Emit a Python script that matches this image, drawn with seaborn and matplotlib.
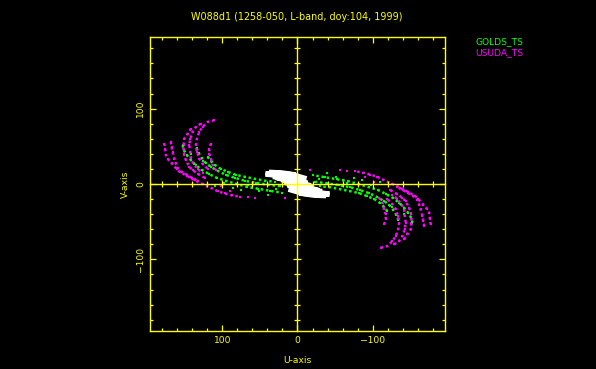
import matplotlib
matplotlib.use("Agg")
import matplotlib.pyplot as plt
from matplotlib.ticker import MultipleLocator, FixedLocator
import seaborn as sns
import pandas as pd

# ---------------- data (u, v) -------------
title = "W088d1 (1258-050, L-band, doy:104, 1999)"
series_names = ["GOLDS_TS", "USUDA_TS"]

golds_u = [
    [152.7, 151.4, 147.4, 142.1, 135.5, 127.5, 118.2, 107.6, 95.6, 82.3, 67.7, 53.1, 37.2, 21.2],
    [134.1, 131.5, 127.5, 122.2, 115.5, 106.2, 95.6, 83.7, 70.4, 55.8, 39.8, 23.9],
    [119.5, 115.5, 110.2, 102.3, 93.0, 82.3, 70.4, 57.1, 43.8, 30.5],
]
golds_v = [
    [51.5, 45.3, 38.7, 32.1, 25.5, 18.9, 13.6, 8.3, 4.4, 0.4, -3.6, -6.2, -8.9, -11.5],
    [48.0, 41.3, 34.7, 28.1, 22.9, 17.6, 12.3, 8.3, 4.4, 1.7, -0.9, -2.9],
    [36.1, 30.8, 25.5, 20.2, 16.2, 12.3, 9.6, 7.0, 4.4, 3.0],
]
# loose green samples scattered below the tracks
golds_extra_u = [110.2, 86.3, 74.7, 59.8, 50.5, 39.8, 98.0, 66.0, 28.0, 141.0, 125.0]
golds_extra_v = [-3.1, -4.9, -7.5, -4.9, -9.8, -14.1, 1.5, -1.0, -6.0, 40.0, 30.0]

usuda_u = [
    [177.0, 176.0, 175.0, 172.6, 167.3, 160.7, 156.7, 147.4, 136.8, 126.2, 114.2, 106.2, 97.0, 87.6, 77.0],
    [168.3, 167.3, 166.0, 163.7, 161.6, 159.4, 154.0, 147.4, 140.8, 132.8],
    [141.7, 146.0, 150.5, 151.4, 151.4, 150.5, 148.3, 143.8, 139.4, 132.8, 123.5],
    [128.4, 135.0, 139.4, 142.5, 143.8, 142.5, 141.7, 138.1, 132.8, 126.2],
    [110.6, 119.5, 126.2, 130.5, 133.7, 135.0, 133.7, 130.5, 126.2, 119.5],
    [115.1, 117.3, 117.3, 115.1, 112.9, 108.9],
]
usuda_v = [
    [53.6, 47.0, 38.3, 33.4, 27.5, 20.2, 16.2, 11.0, 5.0, 0.0, -5.5, -9.5, -12.5, -15.0, -16.9],
    [55.9, 49.3, 42.7, 33.8, 27.2, 20.6, 16.2, 12.3, 8.3, 4.4],
    [73.4, 66.8, 60.2, 51.5, 44.9, 38.3, 31.7, 22.9, 18.5, 13.6, 8.3],
    [80.0, 75.7, 69.1, 60.2, 51.5, 42.7, 33.8, 26.8, 20.2, 14.9],
    [84.5, 82.3, 75.7, 69.1, 60.2, 51.5, 42.7, 33.8, 26.8, 20.2],
    [53.6, 47.0, 40.4, 33.8, 25.1, 18.9],
]
usuda_extra_u = [17.0, 56.0, 66.0, 101.0, 90.0]
usuda_extra_v = [-18.5, -19.0, -17.5, -3.0, -9.0]

other_u = [
    [39.8, 33.0, 26.6],
    [22.6, 16.0, 10.6, 5.0, 0.0, -9.3],
    [18.6, 8.0, -2.7, -15.9, -26.6],
    [10.6, -2.7, -15.9, -29.2, -39.8],
    [23.9, 13.3, 2.7],
    [35.0, 25.0, 15.0, 5.0],
    [30.0, 20.0, 10.0, 0.0, -10.0],
    [15.0, 5.0, -5.0, -15.0, -25.0, -35.0],
]
other_v = [
    [12.3, 11.5, 11.0],
    [14.9, 14.3, 13.6, 12.3, 11.0, 8.3],
    [4.4, 1.7, -0.9, -4.8, -7.5],
    [-2.2, -6.2, -10.2, -12.8, -14.1],
    [7.0, 5.7, 4.4],
    [16.0, 15.5, 14.5, 13.0],
    [9.0, 8.0, 6.5, 5.0, 3.0],
    [1.0, -2.0, -5.0, -8.0, -10.5, -12.5],
]

x_ticks = [100, 0, -100]
y_ticks = [-100, 0, 100]


def tracks(us, vs):
    """Table of visibilities plus their conjugates (-u, -v)."""
    rows = []
    for i, (uu, vv) in enumerate(zip(us, vs)):
        for a, b in zip(uu, vv):
            rows.append((a, b, f"{i}+"))
        for a, b in zip(uu, vv):
            rows.append((-a, -b, f"{i}-"))
    return pd.DataFrame(rows, columns=["u", "v", "track"])


df_golds = tracks(golds_u, golds_v)
df_usuda = tracks(usuda_u, usuda_v)
df_other = tracks(other_u, other_v)
df_golds_x = tracks([golds_extra_u], [golds_extra_v])
df_usuda_x = tracks([usuda_extra_u], [usuda_extra_v])

YEL = "#ffff00"
GRN = "#00ff00"
MAG = "#ff00ff"
WHT = "#ffffff"
FS = 6.6

fig = plt.figure(figsize=(5.96, 3.69), dpi=100, facecolor="black")
pos = [150 / 596, 38 / 369, 295 / 596, 294 / 369]
ax = fig.add_axes(pos)
ax.set_facecolor("black")

# white short-baseline tracks
sns.lineplot(data=df_other, x="u", y="v", units="track", estimator=None, sort=False,
             color=WHT, lw=3.2, ax=ax, legend=False)
sns.scatterplot(data=df_other, x="u", y="v", color=WHT, s=8, marker="s", linewidth=0,
                ax=ax, legend=False)

# coloured tracks (dotted)
for df, dfx, col in ((df_golds, df_golds_x, GRN), (df_usuda, df_usuda_x, MAG)):
    sns.lineplot(data=df, x="u", y="v", units="track", estimator=None, sort=False,
                 color=col, lw=1.8, linestyle=(0, (1, 1.1)), ax=ax, legend=False)
    sns.scatterplot(data=df, x="u", y="v", color=col, s=3.5, marker="s", linewidth=0,
                    ax=ax, legend=False)
    sns.scatterplot(data=dfx, x="u", y="v", color=col, s=3.5, marker="s", linewidth=0,
                    ax=ax, legend=False)

ax.set_xlim(196, -196)
ax.set_ylim(-195, 195)
ax.xaxis.set_major_locator(FixedLocator(x_ticks))
ax.yaxis.set_major_locator(FixedLocator(y_ticks))
ax.xaxis.set_minor_locator(MultipleLocator(20))
ax.yaxis.set_minor_locator(MultipleLocator(20))
for s in ax.spines.values():
    s.set_color(YEL)
    s.set_linewidth(1.0)
ax.tick_params(which="both", direction="in", top=True, right=True, color=YEL,
               labelcolor=YEL, labelsize=FS, width=0.9)
ax.tick_params(which="major", length=4.2, pad=3.5)
ax.tick_params(which="minor", length=2.4)
ax.tick_params(axis="y", labelrotation=90)
for lab in ax.get_yticklabels():
    lab.set_va("center")
ax.set_xlabel("U-axis", color=YEL, fontsize=FS, labelpad=8)
ax.set_ylabel("V-axis", color=YEL, fontsize=FS, labelpad=4.5)
ax.grid(False)

# zero axes with crossing ticks
ax2 = fig.add_axes(pos)
ax2.patch.set_visible(False)
ax2.set_xlim(196, -196)
ax2.set_ylim(-195, 195)
ax2.spines["top"].set_visible(False)
ax2.spines["right"].set_visible(False)
ax2.spines["left"].set_position(("data", 0))
ax2.spines["bottom"].set_position(("data", 0))
for k in ("left", "bottom"):
    ax2.spines[k].set_color(YEL)
    ax2.spines[k].set_linewidth(1.0)
ax2.xaxis.set_major_locator(FixedLocator(x_ticks))
ax2.yaxis.set_major_locator(FixedLocator(y_ticks))
ax2.xaxis.set_minor_locator(MultipleLocator(20))
ax2.yaxis.set_minor_locator(MultipleLocator(20))
ax2.tick_params(which="both", direction="inout", color=YEL, width=0.9,
                labelleft=False, labelbottom=False)
ax2.tick_params(which="major", length=6.0)
ax2.tick_params(which="minor", length=4.2)

fig.text(0.4983, 0.955, title, color=YEL, fontsize=6.9, ha="center", va="center")
fig.text(475 / 596, 1 - 41.5 / 369, series_names[0], color=GRN, fontsize=FS, va="center")
fig.text(475 / 596, 1 - 52.5 / 369, series_names[1], color=MAG, fontsize=FS, va="center")

fig.savefig("out.png", dpi=100, facecolor="black")
